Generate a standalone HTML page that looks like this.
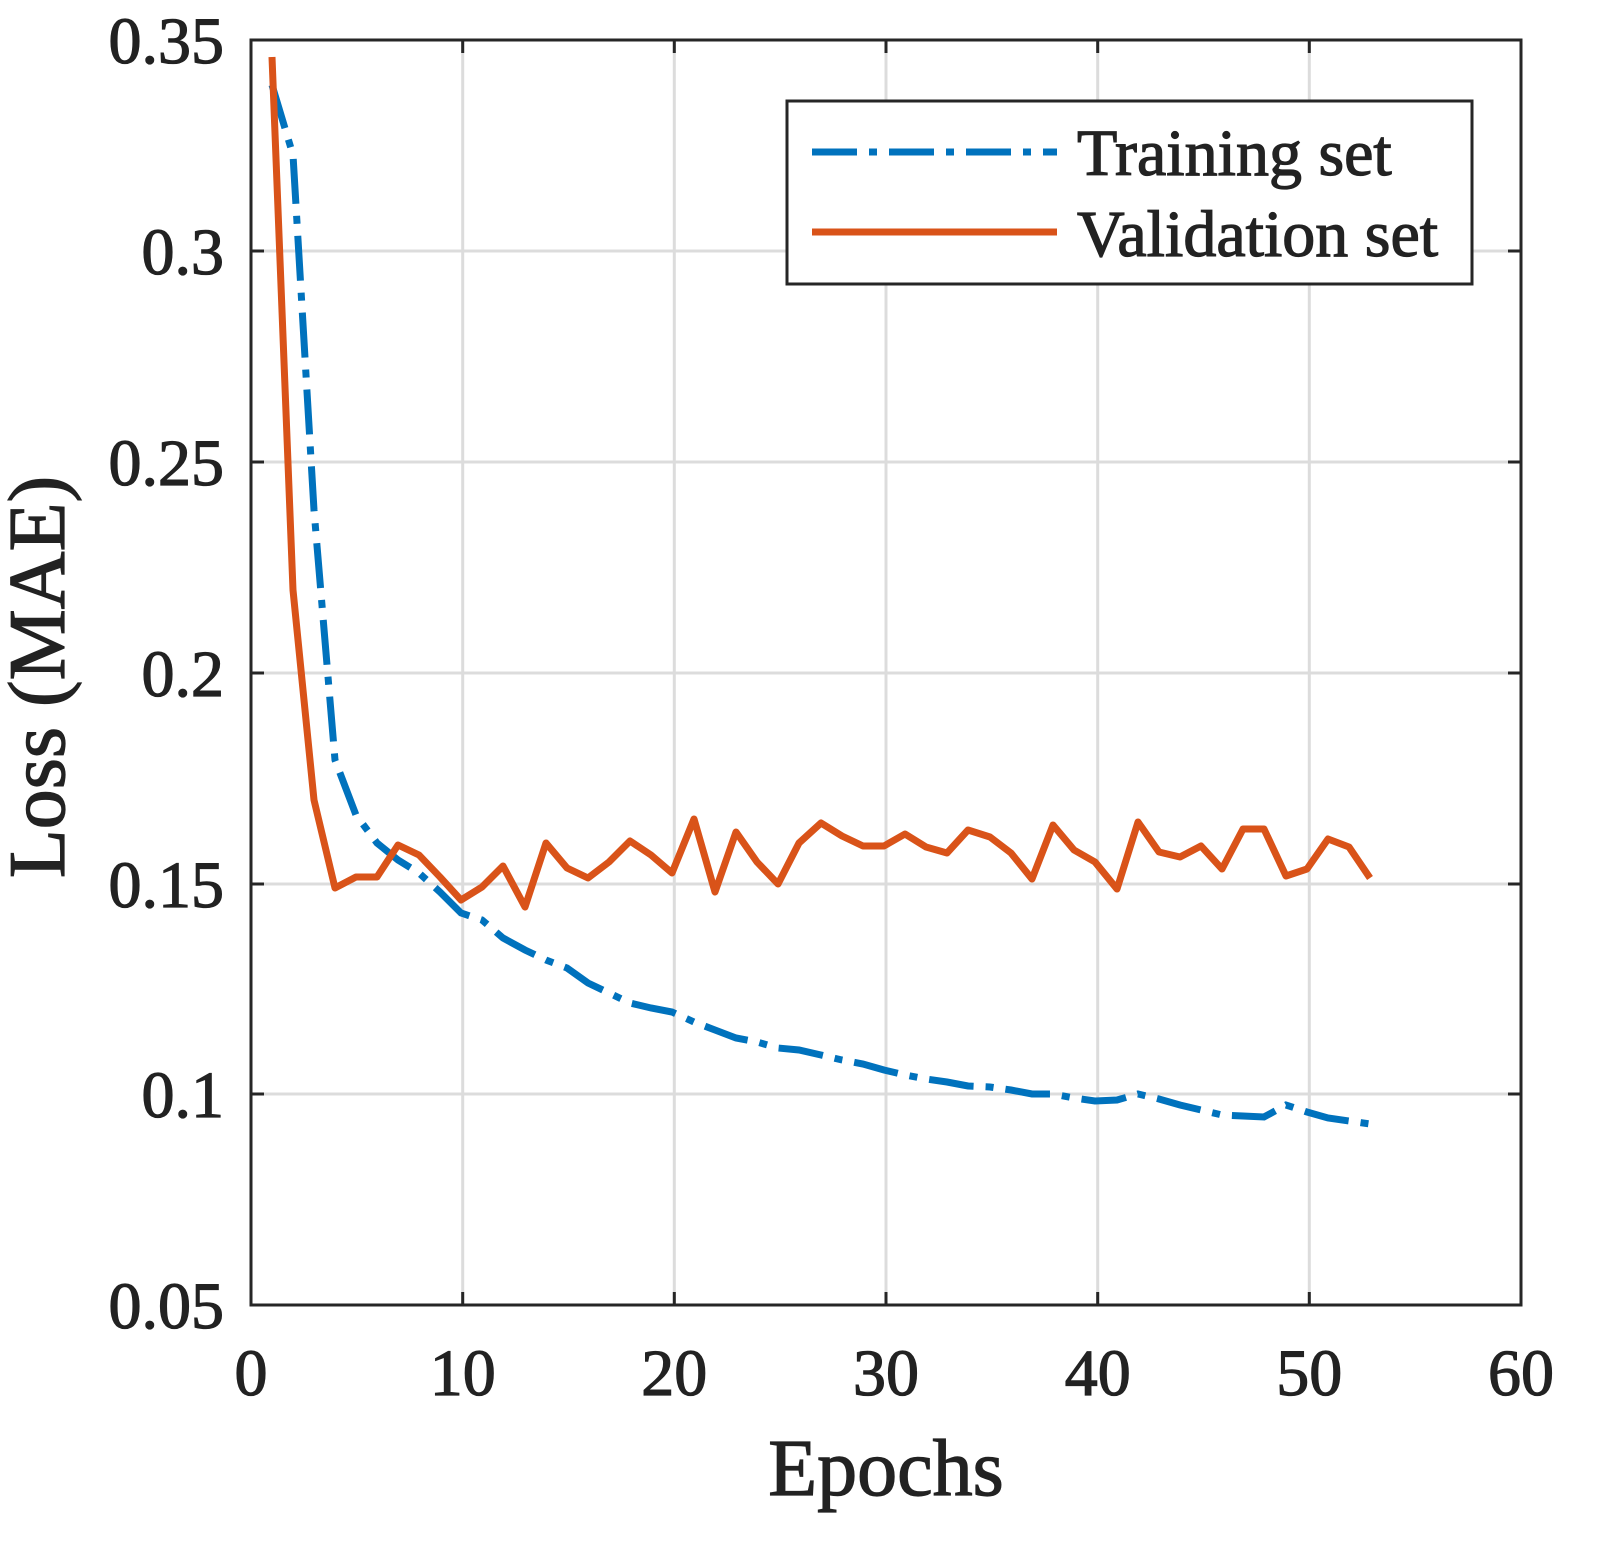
<!DOCTYPE html>
<html><head><style>body{margin:0;background:#fff}</style></head><body>
<svg width="1597" height="1551" xmlns="http://www.w3.org/2000/svg" font-family="Liberation Serif, serif" fill="#222">
<g stroke="#dcdcdc" stroke-width="3">
<line x1="462.7" y1="40" x2="462.7" y2="1305"/><line x1="674.3" y1="40" x2="674.3" y2="1305"/><line x1="886" y1="40" x2="886" y2="1305"/><line x1="1097.7" y1="40" x2="1097.7" y2="1305"/><line x1="1309.3" y1="40" x2="1309.3" y2="1305"/>
<line x1="251" y1="251" x2="1521" y2="251"/><line x1="251" y1="462" x2="1521" y2="462"/><line x1="251" y1="673" x2="1521" y2="673"/><line x1="251" y1="884" x2="1521" y2="884"/><line x1="251" y1="1094" x2="1521" y2="1094"/>
</g>
<g stroke="#262626" stroke-width="3">
<rect x="251" y="40" width="1270" height="1265" fill="none"/>
<path d="M462.7 1305v-13M674.3 1305v-13M886 1305v-13M1097.7 1305v-13M1309.3 1305v-13M462.7 40v13M674.3 40v13M886 40v13M1097.7 40v13M1309.3 40v13M251 251h13M251 462h13M251 673h13M251 884h13M251 1094h13M1521 251h-13M1521 462h-13M1521 673h-13M1521 884h-13M1521 1094h-13"/>
</g>
<polyline fill="none" stroke="#0072bd" stroke-width="7" stroke-dasharray="45 12 8 12" points="272,85 293,155 314,510 335,760 356,815 377,843 398,860 419,873 440,892 461,913 482,920 503,938 525,950 546,960 567,968 588,983 609,993 630,1003 651,1008 672,1012 694,1022 715,1030 736,1038 757,1042 778,1048 799,1050 821,1055 842,1060 863,1064 884,1070 905,1075 926,1079 947,1082 968,1086 990,1087 1011,1090 1032,1094 1053,1094 1074,1098 1095,1101 1117,1100 1138,1094 1159,1099 1180,1105 1201,1110 1222,1115 1243,1116 1264,1117 1286,1105 1307,1112 1328,1118 1349,1121 1370,1124"/>
<polyline fill="none" stroke="#d95319" stroke-width="7" stroke-linejoin="round" points="272,57 293,590 314,800 335,888 356,877 377,877 398,845 419,855 440,877 461,900 482,887 503,866 525,907 546,843 567,868 588,878 609,862 630,841 651,855 672,873 694,819 715,892 736,832 757,862 778,884 799,843 821,823 842,836 863,846 884,846 905,834 926,847 947,853 968,830 990,837 1011,853 1032,879 1053,825 1074,850 1095,862 1117,889 1138,822 1159,852 1180,857 1201,846 1222,869 1243,829 1264,829 1286,876 1307,869 1328,839 1349,847 1370,878"/>
<g stroke="#222" stroke-width="1.2">
<g font-size="66" text-anchor="end">
<text x="224" y="63">0.35</text><text x="224" y="274">0.3</text><text x="224" y="485">0.25</text><text x="224" y="696">0.2</text><text x="224" y="907">0.15</text><text x="224" y="1117">0.1</text><text x="224" y="1328">0.05</text>
</g>
<g font-size="66" text-anchor="middle">
<text x="251" y="1395">0</text><text x="462.7" y="1395">10</text><text x="674.3" y="1395">20</text><text x="886" y="1395">30</text><text x="1097.7" y="1395">40</text><text x="1309.3" y="1395">50</text><text x="1521" y="1395">60</text>
<text x="886" y="1495" font-size="80">Epochs</text>
<text transform="translate(64,677) rotate(-90)" font-size="80">Loss (MAE)</text>
</g>
</g>
<rect x="787" y="101" width="685" height="183" fill="#fff" stroke="#262626" stroke-width="3"/>
<line x1="812" y1="152" x2="1057" y2="152" stroke="#0072bd" stroke-width="7" stroke-dasharray="45 12 8 12"/>
<line x1="812" y1="232" x2="1057" y2="232" stroke="#d95319" stroke-width="7"/>
<g font-size="66" stroke="#222" stroke-width="1.2"><text x="1077" y="175">Training set</text><text x="1077" y="256">Validation set</text></g>
</svg>
</body></html>
